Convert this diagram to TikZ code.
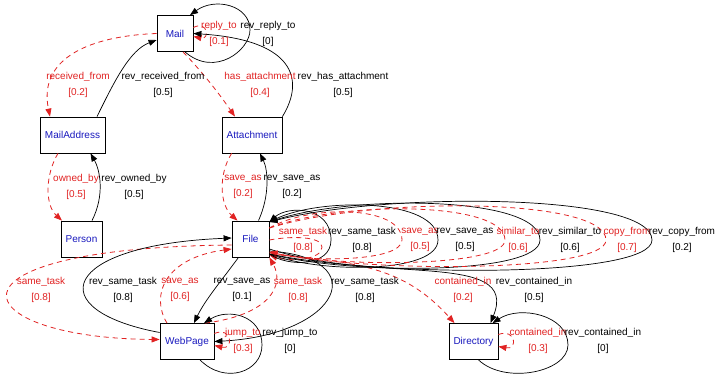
\documentclass[tikz,border=0pt]{standalone}
\usepackage{fontspec}
\setmainfont{Liberation Sans}
\usetikzlibrary{arrows.meta}
\definecolor{ered}{RGB}{225,35,35}
\definecolor{nblue}{RGB}{25,25,190}
\tikzset{
  box/.style={draw=black, line width=0.8pt, fill=white, minimum height=36pt, inner sep=0pt, text=nblue, font=\fontsize{10}{12}\selectfont},
  redge/.style={draw=ered, line width=0.8pt, dash pattern=on 5pt off 4pt, -{Triangle[length=8pt,width=6pt]}},
  bedge/.style={draw=black, line width=0.7pt, -{Triangle[length=8pt,width=6pt]}},
  rlab/.style={align=center, text=ered, font=\fontsize{10}{16}\selectfont, inner sep=0pt},
  blab/.style={rlab, text=black},
}
\begin{document}
\begin{tikzpicture}[x=1pt,y=-1pt]
\useasboundingbox[fill=white] (0,0) rectangle (716,381);
% nodes
\node[box, minimum width=36pt] (Mail) at (175,33.5) {Mail};
\node[box, minimum width=65pt] (MailAddress) at (72.5,135) {MailAddress};
\node[box, minimum width=60pt] (Attachment) at (252,135) {Attachment};
\node[box, minimum width=41pt] (Person) at (81.5,239) {Person};
\node[box, minimum width=37pt] (File) at (250.5,239) {File};
\node[box, minimum width=54pt] (WebPage) at (187,341.5) {WebPage};
\node[box, minimum width=49pt] (Directory) at (473.5,341.5) {Directory};
% Mail edges
\draw[redge] (Mail.west) .. controls (90,36) and (38,58) .. ([xshift=-22.5pt]MailAddress.north);
\draw[bedge] ([xshift=24.5pt]MailAddress.north) .. controls (115,80) and (130,50) .. ([yshift=-6.5pt]Mail.west);
\draw[bedge] ([xshift=10pt]Mail.south) .. controls (215,78) and (250,50) .. (250,30) .. controls (250,5) and (215,-3) .. ([xshift=15pt]Mail.north);
\draw[redge] ([yshift=6pt]Mail.east) .. controls (208,20) and (210,40) .. ([yshift=-3pt]Mail.east);
\draw[bedge] (Attachment.north east) .. controls (305,80) and (295,40) .. (Mail.east);
\draw[redge] ([xshift=8pt]Mail.south) .. controls (205,75) and (220,95) .. ([xshift=-17pt]Attachment.north);
% MailAddress - Person
\draw[redge] ([xshift=-14.5pt]MailAddress.south) .. controls (45,175) and (45,205) .. ([xshift=-19.5pt]Person.north);
\draw[bedge] ([xshift=10.5pt]Person.north) .. controls (105,195) and (100,170) .. ([xshift=18pt]MailAddress.south);
% Attachment - File
\draw[redge] ([xshift=10pt]Attachment.south west) .. controls (218,175) and (220,205) .. ([xshift=-13pt]File.north);
\draw[bedge] ([xshift=8pt]File.north) .. controls (270,195) and (268,170) .. ([xshift=8pt]Attachment.south);
% File - WebPage
\draw[redge] ([yshift=-6pt]File.west) .. controls (-75,248) and (-35,338) .. ([yshift=2pt]WebPage.west);
\draw[bedge] ([yshift=9pt]WebPage.west) .. controls (40,310) and (60,245) .. ([yshift=1pt]File.west);
\draw[redge] ([xshift=-20pt]WebPage.north) .. controls (150,295) and (165,258) .. ([yshift=-10pt]File.west);
\draw[bedge] ([xshift=-12pt]File.south) .. controls (222,280) and (205,300) .. ([xshift=7pt]WebPage.north);
\draw[redge] ([xshift=18pt]WebPage.north) .. controls (270,315) and (285,285) .. (File.south east);
\draw[bedge] ([yshift=-12pt]File.east) .. controls (375,258) and (340,335) .. (WebPage.east);
\draw[bedge] ([xshift=13pt]WebPage.south) .. controls (225,385) and (262,372) .. (262,345) .. controls (262,315) and (228,308) .. ([xshift=17pt]WebPage.north);
\draw[redge] ([yshift=8pt]WebPage.east) .. controls (232,326) and (234,350) .. ([yshift=-4pt]WebPage.east);
% File - Directory
\draw[redge] ([yshift=-15pt]File.east) .. controls (360,262) and (405,268) .. ([xshift=-19pt]Directory.north);
\draw[bedge] ([yshift=-10pt]File.east) .. controls (380,285) and (520,250) .. ([xshift=17pt]Directory.north);
\draw[bedge] ([xshift=5pt]Directory.south) .. controls (505,385) and (568,372) .. (568,345) .. controls (568,315) and (520,305) .. ([xshift=19pt]Directory.north);
\draw[redge] ([yshift=7pt]Directory.east) .. controls (516,328) and (518,350) .. ([yshift=-5pt]Directory.east);
% File self loops
\draw[redge] ([yshift=-1pt]File.east) .. controls (290,236) and (322,236) .. (322,247) .. controls (322,260) and (290,262) .. ([yshift=-16pt]File.east);
\draw[bedge] ([yshift=-15pt]File.east) .. controls (287.6,267) and (331,267) .. (331,240) .. controls (331,205.7) and (287.6,205.7) .. ([yshift=17pt]File.east);
\draw[redge] ([yshift=11pt]File.east) .. controls (309,204.7) and (402,204.7) .. (402,240) .. controls (402,262) and (309,262) .. ([yshift=-13pt]File.east);
\draw[bedge] ([yshift=-15pt]File.east) .. controls (319.7,273.7) and (438,273.7) .. (438,240) .. controls (438,197.7) and (319.7,197.7) .. ([yshift=17pt]File.east);
\draw[redge] ([yshift=11pt]File.east) .. controls (339.8,200.7) and (505,200.7) .. (505,240) .. controls (505,267.3) and (339.8,267.3) .. ([yshift=-13pt]File.east);
\draw[bedge] ([yshift=-15pt]File.east) .. controls (350.3,275) and (540,275) .. (540,240) .. controls (540,195) and (350.3,195) .. ([yshift=17pt]File.east);
\draw[redge] ([yshift=11pt]File.east) .. controls (370,196.7) and (606,196.7) .. (606,240) .. controls (606,272.7) and (370,272.7) .. ([yshift=-13pt]File.east);
\draw[bedge] ([yshift=-15pt]File.east) .. controls (383.9,277.7) and (652,277.7) .. (652,240) .. controls (652,192.3) and (383.9,192.3) .. ([yshift=17pt]File.east);
% labels
\node[rlab] (la1) at (78,85) {received\_from\\{}[0.2]};
\node[blab] (la2) at (163,85) {rev\_received\_from\\{}[0.5]};
\node[rlab] (la3) at (219,33.5) {reply\_to\\{}[0.1]};
\node[blab] (la4) at (268,33.5) {rev\_reply\_to\\{}[0]};
\node[rlab] (la5) at (260,85) {has\_attachment\\{}[0.4]};
\node[blab] (la6) at (343,85) {rev\_has\_attachment\\{}[0.5]};
\node[rlab] (la7) at (76,187) {owned\_by\\{}[0.5]};
\node[blab] (la8) at (134,187) {rev\_owned\_by\\{}[0.5]};
\node[rlab] (la9) at (243,187) {save\_as\\{}[0.2]};
\node[blab] (la10) at (292,187) {rev\_save\_as\\{}[0.2]};
\node[rlab] (la11) at (41,290) {same\_task\\{}[0.8]};
\node[blab] (la12) at (123,290) {rev\_same\_task\\{}[0.8]};
\node[rlab] (la13) at (180,290) {save\_as\\{}[0.6]};
\node[blab] (la14) at (242,290) {rev\_save\_as\\{}[0.1]};
\node[rlab] (la15) at (298,290) {same\_task\\{}[0.8]};
\node[blab] (la16) at (365,290) {rev\_same\_task\\{}[0.8]};
\node[rlab] (la17) at (243,341) {jump\_to\\{}[0.3]};
\node[blab] (la18) at (290,341) {rev\_jump\_to\\{}[0]};
\node[rlab] (la19) at (303,239.5) {same\_task\\{}[0.8]};
\node[blab] (la20) at (362,239.5) {rev\_same\_task\\{}[0.8]};
\node[rlab] (la21) at (420,239.5) {save\_as\\{}[0.5]};
\node[blab] (la22) at (465,239.5) {rev\_save\_as\\{}[0.5]};
\node[rlab] (la23) at (518,239.5) {similar\_to\\{}[0.6]};
\node[blab] (la24) at (570,239.5) {rev\_similar\_to\\{}[0.6]};
\node[rlab] (la25) at (627,239.5) {copy\_from\\{}[0.7]};
\node[blab] (la26) at (682,239.5) {rev\_copy\_from\\{}[0.2]};
\node[rlab] (la27) at (463,290) {contained\_in\\{}[0.2]};
\node[blab] (la28) at (534,290) {rev\_contained\_in\\{}[0.5]};
\node[rlab] (la29) at (538,341) {contained\_in\\{}[0.3]};
\node[blab] (la30) at (603,341) {rev\_contained\_in\\{}[0]};
\end{tikzpicture}
\end{document}
